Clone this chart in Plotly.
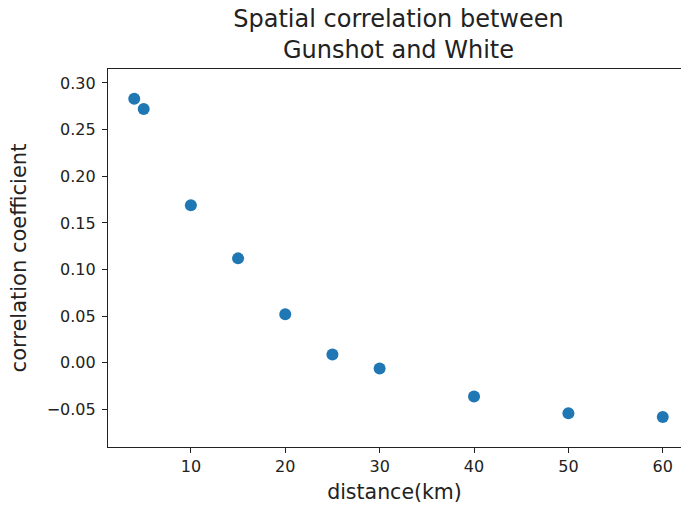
import plotly.graph_objects as go

distance_km = [4, 5, 10, 15, 20, 25, 30, 40, 50, 60]
correlation = [0.283, 0.272, 0.169, 0.112, 0.052, 0.009, -0.006, -0.036, -0.054, -0.058]

y_ticks = [-0.05, 0.00, 0.05, 0.10, 0.15, 0.20, 0.25, 0.30]
y_ticktext = ["\u22120.05", "0.00", "0.05", "0.10", "0.15", "0.20", "0.25", "0.30"]
x_ticks = [10, 20, 30, 40, 50, 60]

FONT = "DejaVu Sans"

fig = go.Figure(
    go.Scatter(
        x=distance_km,
        y=correlation,
        mode="markers",
        marker=dict(color="#1f77b4", size=12, line=dict(width=0)),
        showlegend=False,
    )
)

fig.update_layout(
    width=681,
    height=506,
    margin=dict(l=108, r=0, t=69, b=59),
    paper_bgcolor="white",
    plot_bgcolor="white",
    font=dict(family=FONT, color="#222222", size=16),
    title=dict(
        text="Spatial correlation between<br>Gunshot and White",
        x=(108 + 689) / 2 / 681,
        xanchor="center",
        yref="container",
        y=1 - 27 / 506,
        yanchor="top",
        font=dict(family=FONT, size=24, color="#222222"),
    ),
)

fig.update_xaxes(
    range=[1.22, 61.93],
    tickvals=x_ticks,
    ticks="outside",
    ticklen=5,
    tickwidth=1,
    tickcolor="#222222",
    showline=True,
    linecolor="#222222",
    linewidth=1.2,
    mirror=True,
    showgrid=False,
    zeroline=False,
    tickfont=dict(size=16),
    title=dict(text="distance(km)", font=dict(size=20.5), standoff=9),
)

fig.update_yaxes(
    range=[-0.0902, 0.315],
    tickvals=y_ticks,
    ticktext=y_ticktext,
    ticks="outside",
    ticklen=5,
    tickwidth=1,
    tickcolor="#222222",
    ticklabelstandoff=3,
    showline=True,
    linecolor="#222222",
    linewidth=1.2,
    mirror=False,
    showgrid=False,
    zeroline=False,
    tickfont=dict(size=16),
    title=dict(text="correlation coefficient", font=dict(size=21), standoff=14),
)

fig.write_html("out.html")
